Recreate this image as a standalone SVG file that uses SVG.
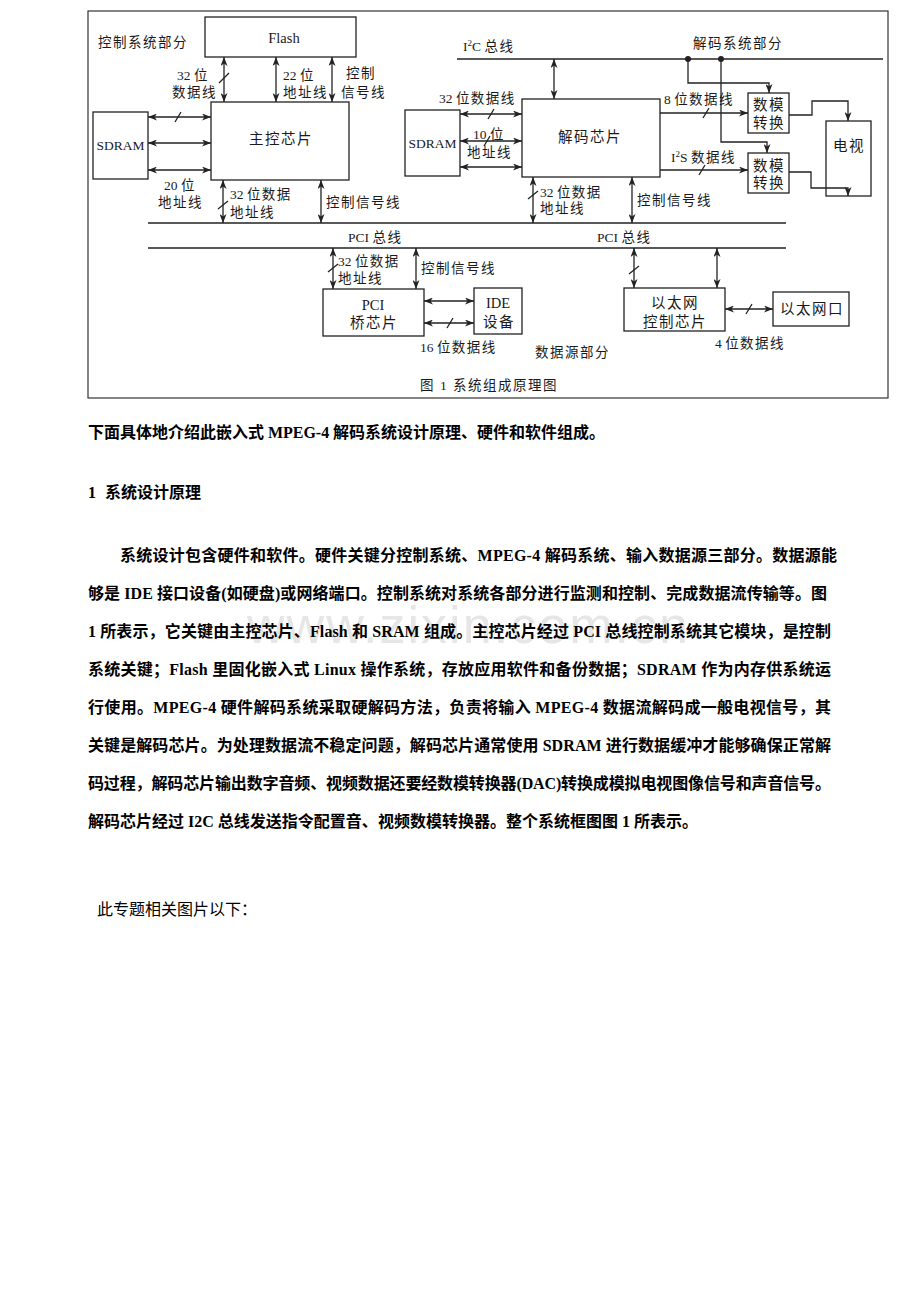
<svg xmlns="http://www.w3.org/2000/svg" width="920" height="1302" viewBox="0 0 920 1302">
<defs>
<marker id="ah" markerUnits="userSpaceOnUse" markerWidth="9" markerHeight="7" refX="9" refY="3.5" orient="auto-start-reverse"><path d="M0,0 L9,3.5 L0,7 L2.5,3.5 z" fill="#222"/></marker>
<style>
.frame{fill:#fff;stroke:#333;stroke-width:1.2}
.box{fill:#fff;stroke:#222;stroke-width:1.3}
.ln{fill:none;stroke:#222;stroke-width:1.3}
.bi{marker-start:url(#ah);marker-end:url(#ah)}
.one{marker-end:url(#ah)}
.lbl{font-family:"Liberation Serif","Noto Sans CJK SC",serif;font-size:13.5px;letter-spacing:1.5px;fill:#1a1a1a}
.nd{font-family:"Liberation Serif","Noto Sans CJK SC",serif;font-size:14.5px;letter-spacing:1.5px;fill:#1a1a1a;text-anchor:middle}
.l0{letter-spacing:0}
.para{font-family:"Liberation Serif","Noto Sans CJK SC",serif;font-size:16px;font-weight:bold;fill:#000}
.plain{font-family:"Liberation Serif","Noto Sans CJK SC",serif;font-size:16px;fill:#000}
.wm{font-family:"Liberation Sans",Arial,sans-serif;font-size:52px;fill:#e6e6e6}
</style>
</defs>
<rect width="920" height="1302" fill="#fff"/>
<rect id="frame" class="frame" x="88" y="11" width="800" height="387"/>

<g id="flash"><rect class="box" x="205" y="17" width="151" height="40"/><text class="nd l0" x="284" y="43">Flash</text></g>
<g id="main-chip"><rect class="box" x="211" y="102" width="138" height="78"/><text class="nd" x="281" y="144">主控芯片</text></g>
<g id="sdram-1"><rect class="box" x="93" y="112" width="55" height="67"/><text class="nd l0" x="120.5" y="150" style="font-size:13.5px">SDRAM</text></g>
<g id="decoder-chip"><rect class="box" x="522" y="99" width="138" height="78"/><text class="nd" x="590" y="142">解码芯片</text></g>
<g id="sdram-2"><rect class="box" x="405" y="110" width="55" height="66"/><text class="nd l0" x="432.5" y="148" style="font-size:13.5px">SDRAM</text></g>
<g id="dac-1"><rect class="box" x="748" y="93" width="41" height="40"/><text class="nd" x="769" y="110">数模</text><text class="nd" x="769" y="128">转换</text></g>
<g id="dac-2"><rect class="box" x="748" y="153" width="41" height="40"/><text class="nd" x="769" y="171">数模</text><text class="nd" x="769" y="188">转换</text></g>
<g id="tv"><rect class="box" x="826" y="121" width="45" height="75"/><text class="nd" x="849" y="151">电视</text></g>
<g id="pci-bridge"><rect class="box" x="323" y="289" width="101" height="47"/><text class="nd l0" x="373" y="310">PCI</text><text class="nd" x="374" y="328">桥芯片</text></g>
<g id="ide"><rect class="box" x="474" y="288" width="48" height="46"/><text class="nd l0" x="498" y="308">IDE</text><text class="nd" x="499" y="327">设备</text></g>
<g id="eth-ctrl"><rect class="box" x="624" y="288" width="101" height="43"/><text class="nd" x="675" y="308">以太网</text><text class="nd" x="675" y="327">控制芯片</text></g>
<g id="eth-port"><rect class="box" x="773" y="292" width="76" height="34"/><text class="nd" x="812" y="314">以太网口</text></g>

<g id="connectors">
<path class="ln bi" d="M224,57 V102"/>
<path class="ln bi" d="M276,57 V102"/>
<path class="ln bi" d="M332,57 V102"/>
<path class="ln bi" d="M148,117 H211"/>
<path class="ln bi" d="M148,143 H211"/>
<path class="ln bi" d="M148,170 H211"/>
<path class="ln bi" d="M223,180 V223"/>
<path class="ln bi" d="M321,180 V223"/>
<path class="ln" d="M148,223 H786"/>
<path class="ln" d="M148,248 H786"/>
<path class="ln bi" d="M333,248 V289"/>
<path class="ln bi" d="M416,248 V289"/>
<path class="ln bi" d="M424,301 H474"/>
<path class="ln bi" d="M424,323 H474"/>
<path class="ln bi" d="M533,177 V223"/>
<path class="ln bi" d="M632,177 V223"/>
<path class="ln bi" d="M634,248 V288"/>
<path class="ln bi" d="M717,248 V288"/>
<path class="ln bi" d="M725,309 H773"/>
<path class="ln" d="M457,59 H883"/>
<circle cx="688" cy="59" r="3" fill="#222"/>
<circle cx="721" cy="59" r="3" fill="#222"/>
<path class="ln bi" d="M554,59 V99"/>
<path class="ln bi" d="M460,114 H522"/>
<path class="ln bi" d="M460,141 H522"/>
<path class="ln bi" d="M460,167 H522"/>
<path class="ln one" d="M660,113 H748"/>
<path class="ln one" d="M660,170 H748"/>
<path class="ln one" d="M688,59 V83 H769 V93"/>
<path class="ln one" d="M721,59 V142 H767 V153"/>
<path class="ln one" d="M789,115 H812 V101 H848 V121"/>
<path class="ln one" d="M789,172 H811 V188 H848 V196"/>
<path class="ln" d="M219,83 L229,73 M175,122 L181,112 M218,209 L228,201 M328,272 L338,264 M447,328 L453,318 M528,199 L538,191 M629,274 L639,266 M746,314 L752,304 M488,119 L494,109 M484,146 L490,136 M703,118 L709,108 M699,175 L705,165"/>
</g>

<g id="labels">
<text class="lbl" x="98" y="47">控制系统部分</text>
<text class="lbl" x="177" y="80"><tspan class="l0">32 </tspan>位</text>
<text class="lbl" x="172" y="97">数据线</text>
<text class="lbl" x="283" y="80"><tspan class="l0">22 </tspan>位</text>
<text class="lbl" x="283" y="97">地址线</text>
<text class="lbl" x="346" y="78">控制</text>
<text class="lbl" x="341" y="97">信号线</text>
<text class="lbl" x="164" y="190"><tspan class="l0">20 </tspan>位</text>
<text class="lbl" x="158" y="207">地址线</text>
<text class="lbl" x="230" y="199"><tspan class="l0">32 </tspan>位数据</text>
<text class="lbl" x="230" y="217">地址线</text>
<text class="lbl" x="326" y="207">控制信号线</text>
<text class="lbl" x="348" y="242"><tspan class="l0">PCI  </tspan>总线</text>
<text class="lbl" x="597" y="242"><tspan class="l0">PCI  </tspan>总线</text>
<text class="lbl" x="338" y="266"><tspan class="l0">32 </tspan>位数据</text>
<text class="lbl" x="338" y="283">地址线</text>
<text class="lbl" x="421" y="273">控制信号线</text>
<text class="lbl" x="420" y="352"><tspan class="l0">16 </tspan>位数据线</text>
<text class="lbl" x="535" y="357">数据源部分</text>
<text class="lbl" x="420" y="390" textLength="138">图 1 系统组成原理图</text>
<text class="lbl" x="463" y="51"><tspan class="l0">I</tspan><tspan class="l0" dy="-5" font-size="9">2</tspan><tspan class="l0" dy="5">C  </tspan>总线</text>
<text class="lbl" x="693" y="48">解码系统部分</text>
<text class="lbl" x="439" y="103"><tspan class="l0">32 </tspan>位数据线</text>
<text class="lbl" x="473" y="139"><tspan class="l0">10 </tspan>位</text>
<text class="lbl" x="467" y="157">地址线</text>
<text class="lbl" x="664" y="104"><tspan class="l0">8 </tspan>位数据线</text>
<text class="lbl" x="671" y="162"><tspan class="l0">I</tspan><tspan class="l0" dy="-5" font-size="9">2</tspan><tspan class="l0" dy="5">S </tspan>数据线</text>
<text class="lbl" x="540" y="197"><tspan class="l0">32 </tspan>位数据</text>
<text class="lbl" x="540" y="213">地址线</text>
<text class="lbl" x="637" y="205">控制信号线</text>
<text class="lbl" x="715" y="348"><tspan class="l0">4 </tspan>位数据线</text>
</g>

<g id="body-text">
<text class="wm" x="247" y="643" textLength="441">www.zixin.com.cn</text>
<text class="para" x="88" y="438" textLength="517">下面具体地介绍此嵌入式 MPEG-4 解码系统设计原理、硬件和软件组成。</text>
<text class="para" x="88" y="498">1<tspan x="105">系统设计原理</tspan></text>
<text class="para" x="120" y="561" textLength="717">系统设计包含硬件和软件。硬件关键分控制系统、MPEG-4 解码系统、输入数据源三部分。数据源能</text>
<text class="para" x="88" y="599" textLength="739">够是 IDE 接口设备(如硬盘)或网络端口。控制系统对系统各部分进行监测和控制、完成数据流传输等。图</text>
<text class="para" x="88" y="637" textLength="743">1 所表示，它关键由主控芯片、Flash 和 SRAM 组成。主控芯片经过 PCI 总线控制系统其它模块，是控制</text>
<text class="para" x="88" y="675" textLength="743">系统关键；Flash 里固化嵌入式 Linux 操作系统，存放应用软件和备份数据；SDRAM 作为内存供系统运</text>
<text class="para" x="88" y="713" textLength="743">行使用。MPEG-4 硬件解码系统采取硬解码方法，负责将输入 MPEG-4 数据流解码成一般电视信号，其</text>
<text class="para" x="88" y="751" textLength="743">关键是解码芯片。为处理数据流不稳定问题，解码芯片通常使用 SDRAM 进行数据缓冲才能够确保正常解</text>
<text class="para" x="88" y="789" textLength="743">码过程，解码芯片输出数字音频、视频数据还要经数模转换器(DAC)转换成模拟电视图像信号和声音信号。</text>
<text class="para" x="88" y="827" textLength="610">解码芯片经过 I2C 总线发送指令配置音、视频数模转换器。整个系统框图图 1 所表示。</text>
<text class="plain" x="97" y="915">此专题相关图片以下：</text>
</g>
</svg>
